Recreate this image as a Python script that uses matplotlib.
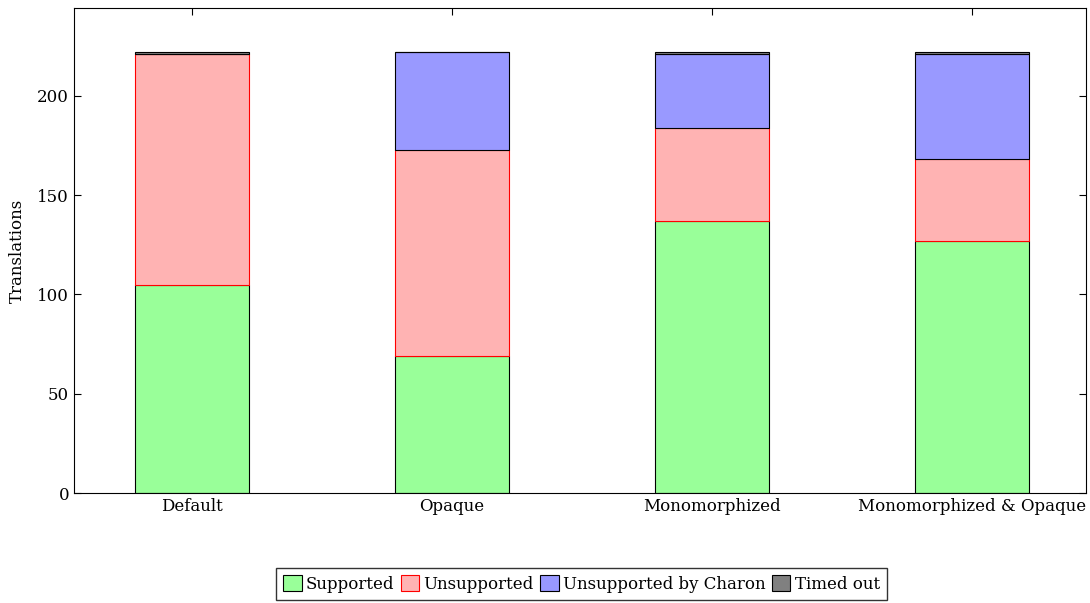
import numpy as np
import matplotlib.pyplot as plt
from matplotlib.patches import Patch

plt.rcParams['font.family'] = ['DejaVu Serif']

# data
configs = ['Default', 'Opaque', 'Monomorphized', 'Monomorphized & Opaque']
supported = [105, 69, 137, 127]
unsupported = [116, 104, 47, 41]
unsupported_charon = [0, 49, 37, 53]
timed_out = [1, 0, 1, 1]

series = [
    ('Supported', supported, '#99FF99', 'black'),
    ('Unsupported', unsupported, '#FFB3B3', 'red'),
    ('Unsupported by Charon', unsupported_charon, '#9999FF', 'black'),
    ('Timed out', timed_out, '#808080', 'black'),
]

FS = 12

fig = plt.figure(figsize=(10.9, 6.03), dpi=100)
ax = fig.add_axes([0.0679, 0.1824, 0.9284, 0.8043])

x = np.arange(len(configs))
bottom = np.zeros(len(configs))
handles = []
for name, vals, fc, ec in series:
    vals = np.array(vals, dtype=float)
    ax.bar(x, vals, width=0.44, bottom=bottom, color=fc, edgecolor=ec,
           linewidth=0.8, zorder=2)
    bottom += vals
    handles.append(Patch(facecolor=fc, edgecolor=ec, linewidth=0.8, label=name))

ax.set_xlim(-0.454, 3.438)
ax.set_ylim(0, 244.3)
ax.set_xticks(x)
ax.set_xticklabels(configs, fontsize=FS)
ax.set_yticks([0, 50, 100, 150, 200])
ax.tick_params(axis='y', labelsize=FS, direction='in', right=True, length=5)
ax.tick_params(axis='x', direction='in', top=True, length=5)
ax.set_ylabel('Translations', fontsize=FS)
ax.yaxis.set_label_coords(-0.048, 0.5)

for s in ax.spines.values():
    s.set_linewidth(0.8)

fig.legend(handles=handles, loc='center', bbox_to_anchor=(0.5335, 0.0315), ncol=4,
           fontsize=FS, frameon=True, fancybox=False, edgecolor='black',
           handlelength=1.1, handleheight=1.1, handletextpad=0.25,
           columnspacing=0.4, borderpad=0.45, borderaxespad=0)

fig.savefig('out.png', dpi=100)
